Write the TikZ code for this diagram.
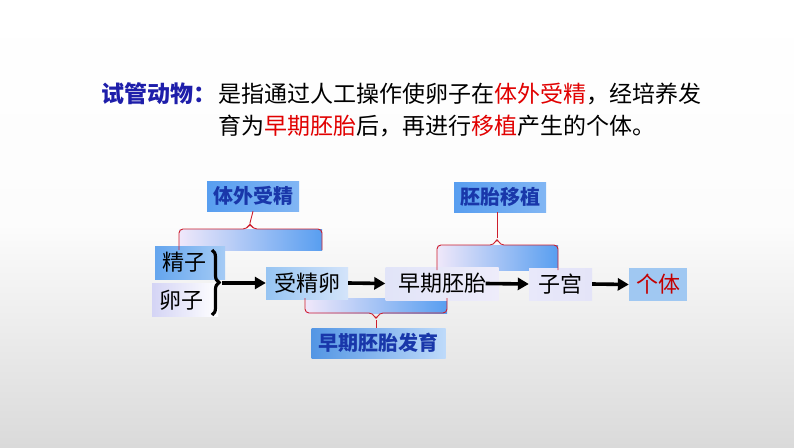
\documentclass[tikz,border=0pt]{standalone}
\usepackage{fontspec}
\setmainfont{Noto Sans CJK SC}
\usetikzlibrary{arrows.meta,decorations.pathreplacing}
\definecolor{titleblue}{RGB}{30,30,170}
\definecolor{hlred}{RGB}{225,0,0}
\definecolor{darkred}{RGB}{195,0,0}
\definecolor{bracered}{RGB}{205,30,45}
\definecolor{lbltext}{RGB}{25,55,170}
\definecolor{bggray}{RGB}{218,218,218}
\definecolor{bluemid}{RGB}{88,158,240}
\definecolor{bluelight}{RGB}{190,218,250}
\definecolor{pinkwhite}{RGB}{240,232,250}
\begin{document}
\begin{tikzpicture}[x=1pt,y=-1pt,
  lbl/.style={minimum width=#1, minimum height=30pt, inner sep=0pt,
    font=\fontsize{20}{20}\selectfont\bfseries, text=lbltext},
  mainbox/.style={minimum width=#1, minimum height=33pt, inner sep=0pt,
    font=\fontsize{22}{22}\selectfont},
  conn/.style={line width=3.6pt, -{Triangle[length=11pt,width=12pt]}},
  bracel/.style={draw=bracered, line width=0.9pt, rounded corners=4pt},
  titlefont/.style={font=\fontsize{23}{32}\selectfont, inner sep=0pt, anchor=base west}
]
% background
\shade[top color=white, bottom color=bggray, middle color=white!92!bggray]
  (0,0) rectangle (794,447);
\useasboundingbox (0,0) rectangle (794,447);

% title
\node[titlefont, text=titleblue, font=\fontsize{23}{32}\selectfont\bfseries]
  (ttl) at (101,102) {试管动物：};
\node[titlefont] (l1) at (218,102)
  {是指通过人工操作使卵子在\textcolor{hlred}{体外受精}，经培养发};
\node[titlefont] (l2) at (218,134)
  {育为\textcolor{hlred}{早期胚胎}后，再进行\textcolor{hlred}{移植}产生的个体。};

% brace fills
\shade[left color=pinkwhite, right color=bluemid] (179,229) rectangle (322,250);
\shade[left color=pinkwhite, right color=bluemid] (437,245) rectangle (558,270);
\shade[left color=pinkwhite, right color=bluemid] (305,298) rectangle (447,313);

% label boxes
\node[lbl=92pt, left color=bluemid, right color=bluemid!75!white] (lblA) at (253,196) {体外受精};
\node[lbl=92pt, left color=bluemid, right color=bluemid!75!white] (lblB) at (500,197) {胚胎移植};
\node[lbl=134pt, left color=bluemid!95!black, right color=bluelight] (lblC) at (378.5,343) {早期胚胎发育};

% main boxes
\node[mainbox=70pt, left color={rgb,255:red,100;green,165;blue,238}, right color={rgb,255:red,165;green,203;blue,245}] (jz) at (190,262.5) {\hspace*{-12pt}精子};
\node[mainbox=66pt, left color={rgb,255:red,212;green,212;blue,245}, right color=white] (lz) at (185,300) {\hspace*{-8pt}卵子};
\node[mainbox=82pt, minimum height=32pt, left color={rgb,255:red,150;green,196;blue,242}, right color={rgb,255:red,212;green,228;blue,250}] (sjl) at (307,283) {受精卵};
\node[mainbox=113pt, left color={rgb,255:red,225;green,228;blue,248}, right color={rgb,255:red,238;green,236;blue,250}] (zq) at (442,283.5) {早期胚胎};
\node[mainbox=63pt, minimum height=32pt, left color={rgb,255:red,232;green,232;blue,250}, right color={rgb,255:red,228;green,228;blue,248}] (zg) at (560.5,284) {子宫};
\node[mainbox=58pt, text=darkred, fill={rgb,255:red,160;green,200;blue,242}] (gt) at (658,284.5) {个体};

% red braces
\draw[bracel] (179,250) -- (179,229) -- (247,229) -- (250,223) -- (253,229) -- (322,229) -- (322,250);
\coordinate (ta) at (250,223);
\draw[bracered, line width=0.9pt] (ta) -- (lblA.south);

\draw[bracel] (437,270) -- (437,245) -- (494,245) -- (497,238) -- (500,245) -- (558,245) -- (558,270);
\coordinate (tb) at (497,238);
\draw[bracered, line width=0.9pt] (tb) -- (lblB.south -| tb);

\draw[bracel] (305,298) -- (305,313) -- (373,313) -- (376,320) -- (379,313) -- (447,313) -- (447,298);
\coordinate (tc) at (376,320);
\draw[bracered, line width=0.9pt] (tc) -- (lblC.north -| tc);

% black brace
\draw[decorate, decoration={brace, amplitude=7pt}, line width=3.2pt] (212,250) -- (212,315);
\coordinate (bt) at (222,283);

% arrows
\draw[conn] (bt) -- (sjl.west);
\draw[conn] (sjl.east) -- (zq.west);
\draw[conn] ([xshift=-13pt]zq.east) -- (zg.west);
\draw[conn] (zg.east) -- (gt.west);
\end{tikzpicture}
\end{document}
